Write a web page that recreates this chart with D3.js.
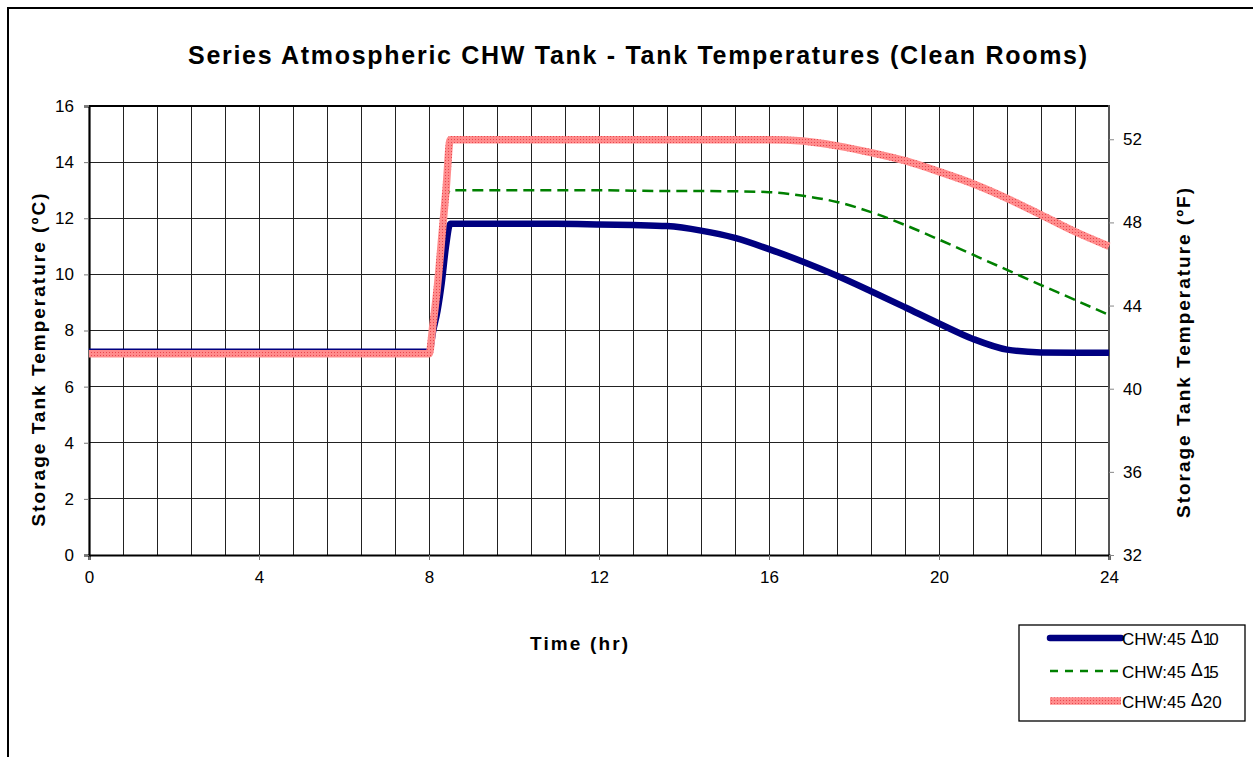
<!DOCTYPE html>
<html>
<head>
<meta charset="utf-8">
<script src="https://cdn.jsdelivr.net/npm/d3@7/dist/d3.min.js"></script>
<style>
  html, body { margin: 0; padding: 0; background: #fff; }
  svg { display: block; font-family: "Liberation Sans", Arial, sans-serif; }
</style>
</head>
<body>
<svg id="chart" width="1253" height="757"></svg>
<script>
// Simulated hours of the day
const hours = [0, 8, 8.1, 8.2, 8.3, 8.4, 8.5, 9, 10, 11, 12, 12.8, 13.6, 14.4, 15.2, 16,
               16.8, 17.6, 18.4, 19.2, 20, 20.8, 21.6, 22.4, 23.2, 24];

// Storage tank temperature (°C) for each supply/ΔT case
const tempDelta10 = [7.24, 7.24, 8.0, 8.7, 9.7, 11.0, 11.8, 11.8, 11.8, 11.8, 11.78, 11.76, 11.72,
                     11.56, 11.3, 10.9, 10.45, 9.95, 9.4, 8.83, 8.25, 7.7, 7.32, 7.22, 7.21, 7.21];
const tempDelta15 = [7.2, 7.2, 8.3, 9.6, 11.3, 12.6, 13.0, 13.0, 13.0, 13.0, 13.0, 12.98, 12.97,
                     12.97, 12.96, 12.93, 12.8, 12.58, 12.22, 11.76, 11.24, 10.7, 10.16, 9.62, 9.09, 8.55];
const tempDelta20 = [7.17, 7.17, 8.3, 9.6, 11.3, 13.0, 14.8, 14.8, 14.8, 14.8, 14.8, 14.8, 14.8,
                     14.8, 14.8, 14.8, 14.75, 14.58, 14.34, 14.05, 13.66, 13.23, 12.71, 12.12, 11.52, 11.0];

const seriesNames = ["CHW:45 ", "CHW:45 ", "CHW:45 "];
const seriesDeltas = ["10", "15", "20"];

// Axis ticks
const hourTicks = [0, 4, 8, 12, 16, 20, 24];
const celsiusTicks = [0, 2, 4, 6, 8, 10, 12, 14, 16];
const fahrenheitTicks = [32, 36, 40, 44, 48, 52];

const svg = d3.select("#chart");

// outer frame
svg.append("rect").attr("x", 8).attr("y", 8).attr("width", 1300).attr("height", 800)
  .attr("fill", "none").attr("stroke", "#000").attr("stroke-width", 2);

// patterned stroke for the Δ20 line
const defs = svg.append("defs");
const pat = defs.append("pattern").attr("id", "pinkTex")
  .attr("patternUnits", "userSpaceOnUse").attr("width", 3).attr("height", 3);
pat.append("rect").attr("width", 3).attr("height", 3).attr("fill", "#ff8c8c");
pat.append("rect").attr("x", 1).attr("y", 1).attr("width", 1).attr("height", 1).attr("fill", "#e8474f");

const x = d3.scaleLinear().domain([0, 24]).range([89, 1109]);
const y = d3.scaleLinear().domain([0, 16]).range([555, 106]);
const yF = d3.scaleLinear().domain([32, 53.6]).range([555, 106]);

// grid
const grid = svg.append("g").attr("shape-rendering", "crispEdges");
grid.selectAll("line.v").data(d3.range(0.8, 24, 0.8)).join("line")
  .attr("x1", d => x(d)).attr("x2", d => x(d)).attr("y1", y(0)).attr("y2", y(16))
  .attr("stroke", "#222").attr("stroke-width", 1);
grid.selectAll("line.h").data(celsiusTicks.slice(1)).join("line")
  .attr("x1", x(0)).attr("x2", x(24)).attr("y1", d => y(d)).attr("y2", d => y(d))
  .attr("stroke", "#222").attr("stroke-width", 1);

// plot frame
grid.append("line").attr("x1", x(0)).attr("x2", x(24)).attr("y1", y(16)).attr("y2", y(16))
  .attr("stroke", "#000").attr("stroke-width", 2);
grid.append("line").attr("x1", x(24)).attr("x2", x(24)).attr("y1", y(16) - 1).attr("y2", y(0))
  .attr("stroke", "#555").attr("stroke-width", 2);

// axes
const axisFont = g => g.selectAll("text").attr("font-size", 17).attr("fill", "#000")
  .attr("font-family", "'Liberation Sans', Arial, sans-serif");

const gx = svg.append("g").attr("transform", `translate(0,${y(0)})`)
  .call(d3.axisBottom(x).tickValues(hourTicks).tickSize(5).tickPadding(11).tickFormat(d3.format("d")));
gx.select(".domain").attr("stroke", "#000").attr("stroke-width", 2.2);
gx.selectAll(".tick line").attr("stroke", "#777");
axisFont(gx);

const gy = svg.append("g").attr("transform", `translate(${x(0)},0)`)
  .call(d3.axisLeft(y).tickValues(celsiusTicks).tickSize(5).tickPadding(10).tickFormat(d3.format("d")));
gy.select(".domain").attr("stroke", "#000").attr("stroke-width", 2.2);
gy.selectAll(".tick line").attr("stroke", "#777");
axisFont(gy);

const gyF = svg.append("g").attr("transform", `translate(${x(24)},0)`)
  .call(d3.axisRight(yF).tickValues(fahrenheitTicks).tickSize(5).tickPadding(9).tickFormat(d3.format("d")));
gyF.select(".domain").remove();
gyF.selectAll(".tick line").attr("stroke", "#888");
axisFont(gyF);

// series
const line = d3.line().x(d => x(d[0])).y(d => y(d[1])).curve(d3.curveMonotoneX);
const plot = svg.append("g");
plot.append("path").datum(d3.zip(hours, tempDelta10)).attr("d", line)
  .attr("fill", "none").attr("stroke", "#000080").attr("stroke-width", 6.5).attr("stroke-linejoin", "round");
plot.append("path").datum(d3.zip(hours, tempDelta15)).attr("d", line)
  .attr("fill", "none").attr("stroke", "#008000").attr("stroke-width", 2.5).attr("stroke-dasharray", "11,6");
plot.append("path").datum(d3.zip(hours, tempDelta20)).attr("d", line)
  .attr("fill", "none").attr("stroke", "url(#pinkTex)").attr("stroke-width", 7.5);

// titles
svg.append("text").attr("x", 637.5).attr("y", 64).attr("text-anchor", "middle")
  .attr("font-size", 25).attr("font-weight", "bold")
  .attr("textLength", 899).attr("lengthAdjust", "spacing")
  .text("Series Atmospheric CHW Tank - Tank Temperatures (Clean Rooms)");

svg.append("text").attr("transform", "translate(45,360) rotate(-90)").attr("text-anchor", "middle")
  .attr("font-size", 19).attr("font-weight", "bold")
  .attr("textLength", 333).attr("lengthAdjust", "spacing")
  .text("Storage Tank Temperature (ºC)");

svg.append("text").attr("transform", "translate(1190,353) rotate(-90)").attr("text-anchor", "middle")
  .attr("font-size", 19).attr("font-weight", "bold")
  .attr("textLength", 330).attr("lengthAdjust", "spacing")
  .text("Storage Tank Temperature (ºF)");

svg.append("text").attr("x", 579).attr("y", 650).attr("text-anchor", "middle")
  .attr("font-size", 19).attr("font-weight", "bold")
  .attr("textLength", 98).attr("lengthAdjust", "spacing")
  .text("Time (hr)");

// legend
const legend = svg.append("g");
legend.append("rect").attr("x", 1019).attr("y", 625).attr("width", 226).attr("height", 96)
  .attr("fill", "#fff").attr("stroke", "#000").attr("stroke-width", 1.3);
const legendRows = [
  { y: 638, stroke: "#000080", width: 6.5, dash: null, cap: "round" },
  { y: 671, stroke: "#008000", width: 2.5, dash: "8,7", cap: "butt" },
  { y: 701, stroke: "url(#pinkTex)", width: 7.5, dash: null, cap: "butt" }
];
legendRows.forEach((r, i) => {
  legend.append("line").attr("x1", 1050).attr("x2", 1121).attr("y1", r.y).attr("y2", r.y)
    .attr("stroke", r.stroke).attr("stroke-width", r.width).attr("stroke-linecap", r.cap)
    .attr("stroke-dasharray", r.dash);
  const t = legend.append("text").attr("x", 1122).attr("y", r.y + 7).attr("font-size", 17);
  t.append("tspan").text(seriesNames[i]);
  t.append("tspan").attr("dy", -2).attr("font-size", 18).text("Δ");
  t.append("tspan").attr("dy", 2).attr("letter-spacing", i < 2 ? -3 : 0).text(seriesDeltas[i]);
});
</script>
</body>
</html>
